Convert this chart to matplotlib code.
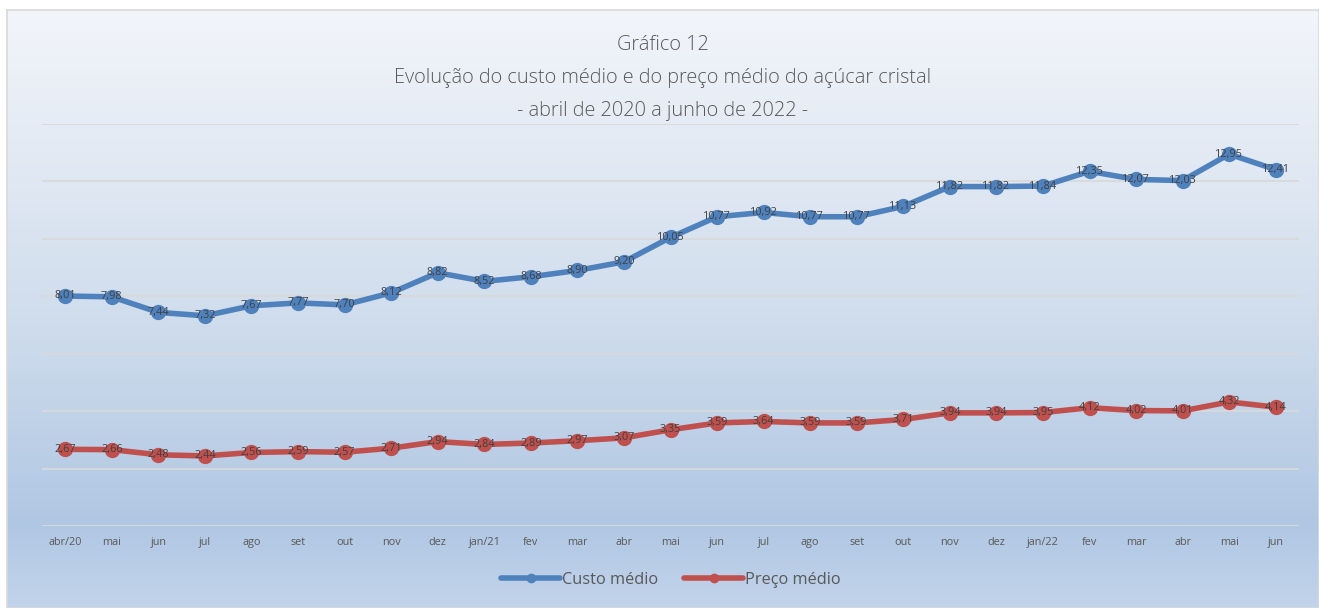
import matplotlib
matplotlib.use("Agg")
import matplotlib.pyplot as plt
import numpy as np
from matplotlib.colors import LinearSegmentedColormap

meses = ["abr/20", "mai", "jun", "jul", "ago", "set", "out", "nov", "dez", "jan/21",
         "fev", "mar", "abr", "mai", "jun", "jul", "ago", "set", "out", "nov", "dez",
         "jan/22", "fev", "mar", "abr", "mai", "jun"]
custo_medio = [8.01, 7.98, 7.44, 7.32, 7.67, 7.77, 7.70, 8.12, 8.82, 8.52, 8.68, 8.90,
               9.20, 10.05, 10.77, 10.92, 10.77, 10.77, 11.13, 11.82, 11.82, 11.84,
               12.35, 12.07, 12.03, 12.95, 12.41]
preco_medio = [2.67, 2.66, 2.48, 2.44, 2.56, 2.59, 2.57, 2.71, 2.94, 2.84, 2.89, 2.97,
               3.07, 3.35, 3.59, 3.64, 3.59, 3.59, 3.71, 3.94, 3.94, 3.95, 4.12, 4.02,
               4.01, 4.32, 4.14]

W, H = 1319, 608
fig = plt.figure(figsize=(W / 100, H / 100), dpi=100)
fig.patch.set_facecolor("white")

# background gradient panel
bg = fig.add_axes([7 / W, 0, (W - 7) / W, (H - 10) / H], zorder=-10)
cmap = LinearSegmentedColormap.from_list(
    "bg", [(0.0, (0.95, 0.96, 0.98)), (0.5, (0.82, 0.87, 0.93)),
           (0.86, (0.69, 0.78, 0.89)), (1.0, (0.76, 0.83, 0.92))])
grad = np.linspace(0, 1, 256).reshape(-1, 1)
bg.imshow(grad, aspect="auto", cmap=cmap, extent=[0, 1, 0, 1], origin="upper")
bg.set_xlim(0, 1); bg.set_ylim(0, 1)
bg.set_xticks([]); bg.set_yticks([])
for s in bg.spines.values():
    s.set_color("#d9d9d9"); s.set_linewidth(1.2)

ax = fig.add_axes([42 / W, (H - 526) / H, (1299 - 42) / W, (526 - 124) / H])
ax.patch.set_alpha(0)
x = np.arange(len(meses))
blue = "#4f81bd"
red = "#c0504d"
ax.plot(x, custo_medio, color=blue, lw=4, marker="o", ms=10, label="Custo médio",
        solid_capstyle="round", zorder=3)
ax.plot(x, preco_medio, color=red, lw=4, marker="o", ms=10, label="Preço médio",
        solid_capstyle="round", zorder=3)
for xi, v in zip(x, custo_medio):
    ax.text(xi, v, f"{v:.2f}".replace(".", ","), ha="center", va="center",
            fontsize=7.8, color="#404040", family="Open Sans", zorder=4)
for xi, v in zip(x, preco_medio):
    ax.text(xi, v, f"{v:.2f}".replace(".", ","), ha="center", va="center",
            fontsize=7.8, color="#404040", family="Open Sans", zorder=4)

ax.set_xlim(-0.5, len(meses) - 0.5)
ax.set_ylim(0, 14)
ax.set_yticks(np.arange(0, 15, 2))
ax.yaxis.grid(True, color="#d9d9d9", lw=1.3)
ax.set_axisbelow(True)
ax.tick_params(axis="y", length=0, labelleft=False)
ax.set_xticks(x)
ax.set_xticklabels(meses, fontsize=7.8, color="#595959", family="Open Sans")
ax.tick_params(axis="x", length=0, pad=8)
for s in ax.spines.values():
    s.set_visible(False)

tfont = dict(ha="center", va="center", fontsize=14.3, color="#595959",
             family="Open Sans", fontweight="light")
fig.text(663 / W, 1 - 45 / H, "Gráfico 12", **tfont)
fig.text(663 / W, 1 - 78 / H, "Evolução do custo médio e do preço médio do açúcar cristal", **tfont)
fig.text(663 / W, 1 - 111 / H, "- abril de 2020 a junho de 2022 -", **tfont)

leg = fig.legend(loc="center", bbox_to_anchor=(671 / W, 1 - 580 / H), ncol=2,
                 frameon=False, prop={"family": "Open Sans", "size": 11.8},
                 labelcolor="#595959", handlelength=3.6, handletextpad=0.1,
                 columnspacing=1.6, markerscale=0.6)
fig.savefig("out.png", dpi=100)
